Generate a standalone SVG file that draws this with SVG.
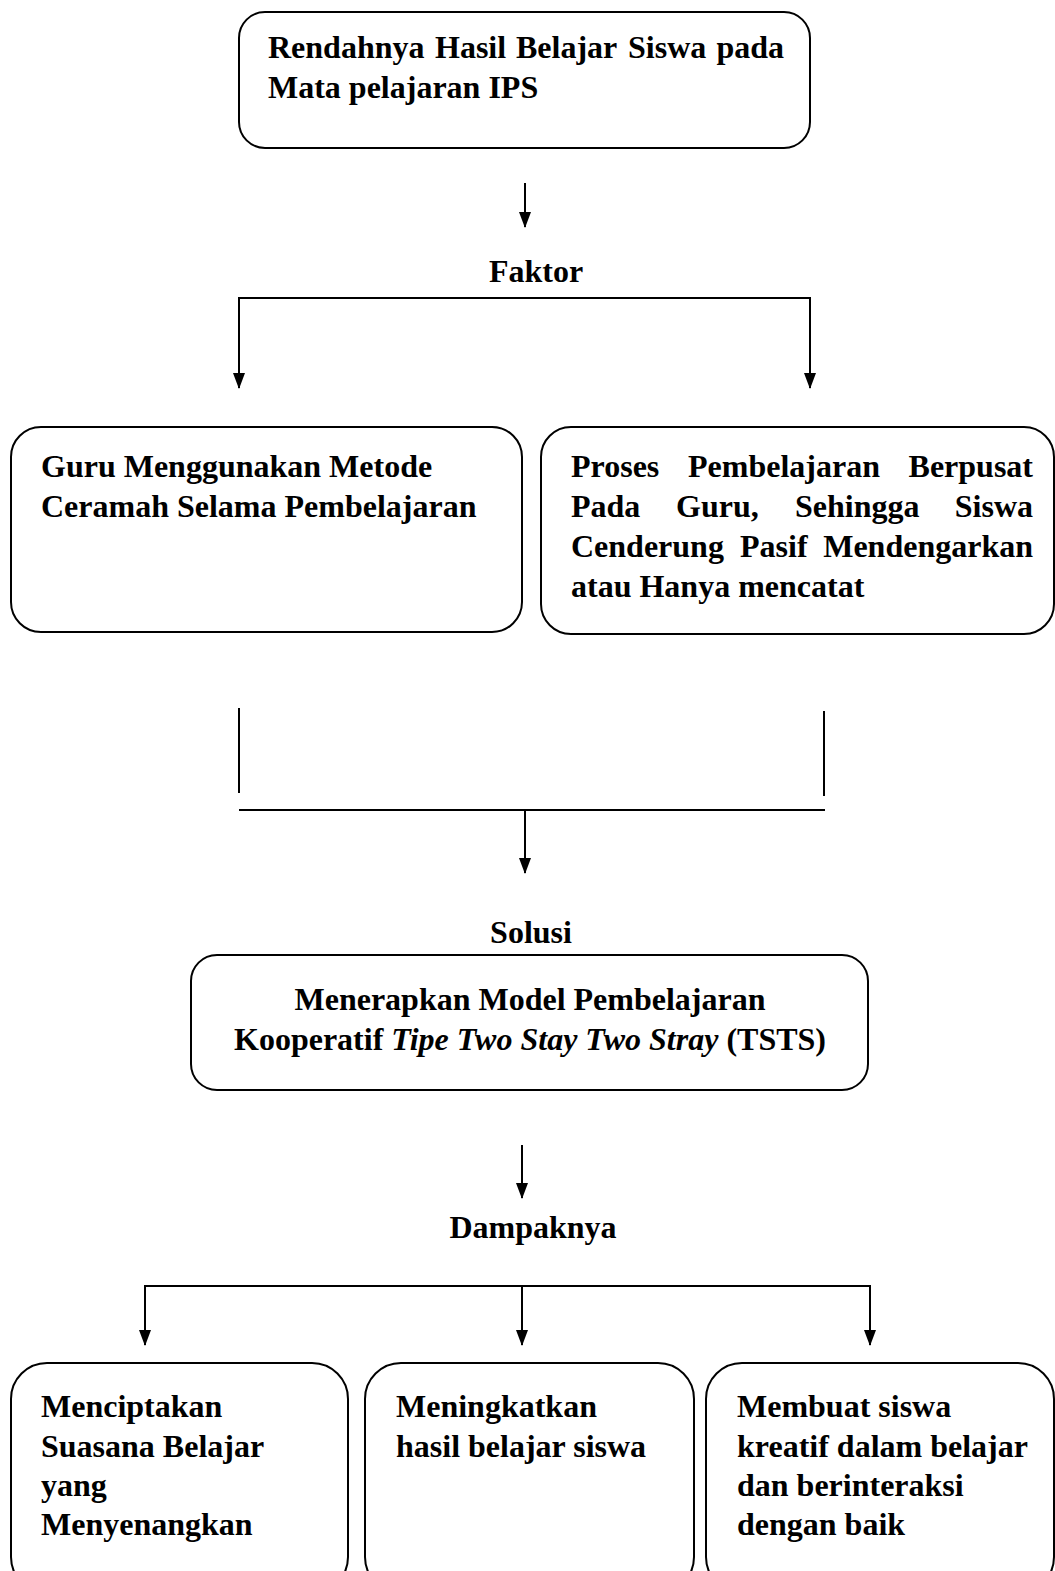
<svg xmlns="http://www.w3.org/2000/svg" width="1055" height="1571" viewBox="0 0 1055 1571">
<style>
.box{fill:#fff;stroke:#000;stroke-width:2}
.ln{fill:none;stroke:#000;stroke-width:2}
text{font-family:"Liberation Serif","Times New Roman",serif;font-weight:bold;font-size:32px;fill:#000}
.m{text-anchor:middle}
.e{text-anchor:end}
</style>
<defs>
<marker id="ah" markerWidth="16" markerHeight="12" refX="15" refY="6" orient="auto" markerUnits="userSpaceOnUse" viewBox="0 0 16 12">
<path d="M0,0 L16,6 L0,12 Z" fill="#000"/>
</marker>
</defs>
<rect width="1055" height="1571" fill="#fff"/>

<g id="n-top">
<rect class="box" x="239" y="12" width="571" height="136" rx="26"/>
<text x="268" y="58">Rendahnya</text>
<text x="435" y="58">Hasil</text>
<text x="516" y="58">Belajar</text>
<text x="628" y="58">Siswa</text>
<text class="e" x="784" y="58">pada</text>
<text x="268" y="98">Mata pelajaran IPS</text>
</g>

<g id="l-faktor"><text class="m" x="536" y="282">Faktor</text></g>

<g id="n-guru">
<rect class="box" x="11" y="427" width="511" height="205" rx="30"/>
<text x="41" y="477">Guru Menggunakan Metode</text>
<text x="41" y="517">Ceramah Selama Pembelajaran</text>
</g>

<g id="n-proses">
<rect class="box" x="541" y="427" width="513" height="207" rx="30"/>
<text x="571" y="477">Proses</text>
<text x="688" y="477">Pembelajaran</text>
<text class="e" x="1033" y="477">Berpusat</text>
<text x="571" y="517">Pada</text>
<text x="676" y="517">Guru,</text>
<text x="795" y="517">Sehingga</text>
<text class="e" x="1033" y="517">Siswa</text>
<text x="571" y="557">Cenderung</text>
<text x="740" y="557">Pasif</text>
<text class="e" x="1033" y="557">Mendengarkan</text>
<text x="571" y="597">atau Hanya mencatat</text>
</g>

<g id="l-solusi"><text class="m" x="531" y="943">Solusi</text></g>

<g id="n-solusi">
<rect class="box" x="191" y="955" width="677" height="135" rx="26"/>
<text class="m" x="530" y="1010">Menerapkan Model Pembelajaran</text>
<text class="m" x="530" y="1050">Kooperatif <tspan font-style="italic">Tipe Two Stay Two Stray</tspan> (TSTS)</text>
</g>

<g id="l-dampak"><text class="m" x="533" y="1238">Dampaknya</text></g>

<g id="n-d1">
<rect class="box" x="11" y="1363" width="337" height="230" rx="36"/>
<text x="41" y="1417">Menciptakan</text>
<text x="41" y="1457">Suasana Belajar</text>
<text x="41" y="1496">yang</text>
<text x="41" y="1535">Menyenangkan</text>
</g>

<g id="n-d2">
<rect class="box" x="365" y="1363" width="329" height="230" rx="36"/>
<text x="396" y="1417">Meningkatkan</text>
<text x="396" y="1457">hasil belajar siswa</text>
</g>

<g id="n-d3">
<rect class="box" x="706" y="1363" width="348" height="230" rx="36"/>
<text x="737" y="1417">Membuat siswa</text>
<text x="737" y="1457">kreatif dalam belajar</text>
<text x="737" y="1496">dan berinteraksi</text>
<text x="737" y="1535">dengan baik</text>
</g>

<g id="connectors">
<line class="ln" x1="525" y1="183" x2="525" y2="227" marker-end="url(#ah)"/>
<line class="ln" x1="239" y1="298" x2="810" y2="298"/>
<line class="ln" x1="239" y1="297" x2="239" y2="388" marker-end="url(#ah)"/>
<line class="ln" x1="810" y1="297" x2="810" y2="388" marker-end="url(#ah)"/>
<line class="ln" x1="239" y1="708" x2="239" y2="793"/>
<line class="ln" x1="824" y1="711" x2="824" y2="796"/>
<line class="ln" x1="239" y1="810" x2="825" y2="810"/>
<line class="ln" x1="525" y1="810" x2="525" y2="873" marker-end="url(#ah)"/>
<line class="ln" x1="522" y1="1145" x2="522" y2="1198" marker-end="url(#ah)"/>
<line class="ln" x1="145" y1="1286" x2="870" y2="1286"/>
<line class="ln" x1="145" y1="1285" x2="145" y2="1345" marker-end="url(#ah)"/>
<line class="ln" x1="522" y1="1286" x2="522" y2="1345" marker-end="url(#ah)"/>
<line class="ln" x1="870" y1="1285" x2="870" y2="1345" marker-end="url(#ah)"/>
</g>
</svg>
